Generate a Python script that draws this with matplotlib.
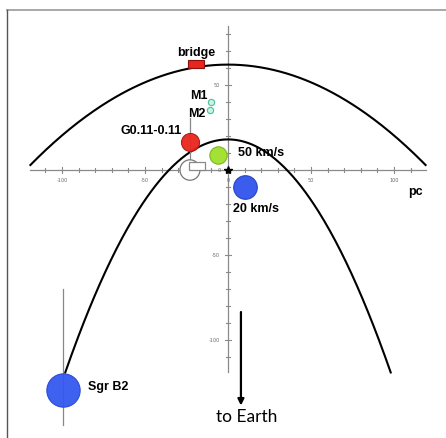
import numpy as np
import matplotlib
matplotlib.use("Agg")
import matplotlib.pyplot as plt
from matplotlib.patches import Rectangle, Circle
from matplotlib.lines import Line2D

# parabolic orbits (pc): y = top - curv * x^2
outerTop, outerCurv, outerHalf = 62.0, 0.00417, 119.0
innerTop, innerCurv, innerHalf = 18.0, 0.01427, 98.0

# clouds: name, x, y (pc), marker size (pt), colour
cloudNames = ["M1", "M2", "G0.11-0.11", "50 km/s", "20 km/s", "Sgr B2"]
cloudX = [-10.2, -10.8, -22.9, -6.0, 10.2, -99.4]
cloudY = [40.0, 35.3, 16.5, 8.8, -10.0, -129.4]
cloudSize = [4.5, 4.5, 13.0, 12.5, 17.0, 24.0]
cloudColor = ["#c9f2e4", "#c9f2e4", "#e8261e", "#9ee02a", "#2f54ee", "#3358f0"]
cloudEdge = ["#3cbf95", "#3cbf95", "#b01810", "#7ab020", "#2440c0", "#2a48d0"]

# vertical error bars (x, ymin, ymax)
errX = [-22.9, -99.4]
errLo = [4.1, -150.0]
errHi = [30.6, -70.0]

# bridge box (x0, y0, w, h) and open symbol near G0.11-0.11
bridgeBox = [-24.0, 60.0, 9.5, 5.0]
openBox = [-23.5, 0.0, 9.6, 4.7]
openCircle = [-22.9, 0.0]

majorTicks = [-100, -50, 50, 100]

fig = plt.figure(figsize=(4.46, 4.38), dpi=100)
ax = fig.add_axes([0, 0, 1, 1])
ax.set_xlim(-137.3, 131.3)
ax.set_ylim(-157.6, 100.0)
ax.axis("off")

# frame
fig.add_artist(Line2D([7 / 446, 1], [1 - 10 / 438, 1 - 10 / 438], color="#9a9a9a", lw=1.2))
fig.add_artist(Line2D([7 / 446, 7 / 446], [0, 1 - 10 / 438], color="#555555", lw=1.0))

# axes with ticks
axCol = "#8a8a8a"
ax.plot([-119, 119], [0, 0], color=axCol, lw=0.9, zorder=1)
ax.plot([0, 0], [-119, 85], color=axCol, lw=0.9, zorder=1)
for t in range(-110, 120, 10):
    h = 1.4 if t % 50 else 2.0
    ax.plot([t, t], [-h, h], color=axCol, lw=0.8, zorder=1)
for t in range(-110, 90, 10):
    h = 1.4 if t % 50 else 2.0
    ax.plot([-h, h], [t, t], color=axCol, lw=0.8, zorder=1)
for t in majorTicks:
    ax.text(t, -6, str(t), fontsize=3.5, color="#666666", ha="center", va="center")
for t in [50, -50, -100]:
    ax.text(-5, t, str(t), fontsize=3.5, color="#666666", ha="right", va="center")
ax.text(-5, 0, "0", fontsize=3.5, color="#666666", ha="center", va="center")
ax.text(0, -6, "0", fontsize=3.5, color="#666666", ha="center", va="center")

# orbits
xo = np.linspace(-outerHalf, outerHalf, 300)
ax.plot(xo, outerTop - outerCurv * xo ** 2, color="black", lw=1.5, zorder=2)
xi = np.linspace(-innerHalf, innerHalf, 300)
ax.plot(xi, innerTop - innerCurv * xi ** 2, color="black", lw=1.5, zorder=2)

# error bars
for x, lo, hi in zip(errX, errLo, errHi):
    ax.plot([x, x], [lo, hi], color="#888888", lw=0.9, zorder=3)

# open symbol
ax.add_patch(Circle(openCircle, 6.0, facecolor="white", edgecolor="#777777", lw=0.9, zorder=3))
ax.add_patch(Rectangle(openBox[:2], openBox[2], openBox[3], facecolor="white",
                       edgecolor="#888888", lw=0.9, zorder=4))

# bridge
ax.add_patch(Rectangle(bridgeBox[:2], bridgeBox[2], bridgeBox[3], facecolor="#e8261e",
                       edgecolor="#8a1010", lw=0.8, zorder=5))
ax.text(bridgeBox[0] + bridgeBox[2] / 2, 69.0, "bridge", fontsize=9, fontweight="bold",
        family="Liberation Sans", ha="center", va="center")

# clouds
for x, y, s, c, e in zip(cloudX, cloudY, cloudSize, cloudColor, cloudEdge):
    ax.plot(x, y, "o", ms=s, mfc=c, mec=e, mew=0.8, alpha=0.95, zorder=5)

# Sgr A* at origin
ax.plot(0, 0, "*", ms=6, color="black", zorder=6)

lab = dict(fontsize=9, fontweight="bold", family="Liberation Sans", va="center")
ax.text(-12.0, 43.5, "M1", ha="right", **lab)
ax.text(-13.5, 33.0, "M2", ha="right", **lab)
ax.text(-28.0, 23.0, "G0.11-0.11", ha="right", **lab)
ax.text(6.0, 10.3, "50 km/s", ha="left", **lab)
ax.text(3.0, -23.0, "20 km/s", ha="left", **lab)
ax.text(-84.5, -127.5, "Sgr B2", ha="left", **lab)
ax.text(113.0, -13.0, "pc", ha="center", **lab)

# direction to Earth
ax.annotate("", xy=(7.8, -138.5), xytext=(7.8, -83.5),
            arrowprops=dict(arrowstyle="-|>", color="black", lw=1.6,
                            mutation_scale=9, shrinkA=0, shrinkB=0))
ax.text(11.5, -145.5, "to Earth", fontsize=12.5, family="Lato", ha="center", va="center")

fig.savefig("out.png", dpi=100)
